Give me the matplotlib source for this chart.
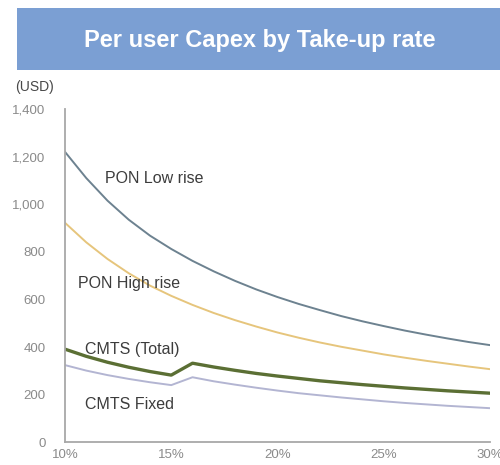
import matplotlib
matplotlib.use("Agg")
import matplotlib.pyplot as plt
from matplotlib.patches import Rectangle
from matplotlib.ticker import FuncFormatter

plt.rcParams['font.family'] = ['Liberation Sans', 'DejaVu Sans']

# Take-up rate (%) and per-user capex (USD)
take_up = [10, 11, 12, 13, 14, 15, 16, 17, 18, 19, 20,
           21, 22, 23, 24, 25, 26, 27, 28, 29, 30]
pon_low_rise = [1220, 1110, 1015, 935, 868, 812, 762, 718, 678, 642, 610,
                581, 555, 530, 508, 488, 469, 452, 436, 421, 408]
pon_high_rise = [922, 840, 770, 710, 658, 615, 577, 543, 513, 486, 461,
                 439, 419, 401, 385, 369, 355, 342, 330, 318, 307]
cmts_total = [391, 361, 336, 315, 297, 282, 332, 316, 302, 289, 278,
              268, 258, 250, 242, 235, 228, 222, 216, 211, 206]
cmts_fixed = [324, 301, 282, 266, 252, 240, 273, 256, 242, 229, 217,
              206, 197, 188, 180, 172, 165, 159, 153, 148, 143]

x_ticks = [10, 15, 20, 25, 30]
y_ticks = [0, 200, 400, 600, 800, 1000, 1200, 1400]

title = "Per user Capex by Take-up rate"
unit_label = "(USD)"

fig = plt.figure(figsize=(5.0, 4.65), dpi=100)

# Title banner
fig.patches.append(Rectangle((0.034, 0.849), 0.966, 0.134, transform=fig.transFigure,
                             facecolor="#7b9fd3", edgecolor="none", zorder=0))
fig.text(0.52, 0.913, title, color="white", fontsize=17, fontweight="bold",
         ha="center", va="center")
fig.text(0.03, 0.813, unit_label, color="#484848", fontsize=10,
         ha="left", va="center")

ax = fig.add_axes([0.13, 0.049, 0.85, 0.7165])

ax.plot(take_up, pon_low_rise, color="#6d8290", lw=1.4)
ax.plot(take_up, pon_high_rise, color="#e6c57c", lw=1.4)
ax.plot(take_up, cmts_total, color="#5b6f34", lw=2.4)
ax.plot(take_up, cmts_fixed, color="#b3b5d2", lw=1.4)

label_style = dict(color="#3c3c3c", fontsize=11.5, ha="left", va="center")
ax.text(11.9, 1109, "PON Low rise", **label_style)
ax.text(10.6, 668, "PON High rise", **label_style)
ax.text(10.95, 391, "CMTS (Total)", **label_style)
ax.text(10.95, 160, "CMTS Fixed", **label_style)

ax.set_xlim(10, 30)
ax.set_ylim(0, 1400)
ax.set_xticks(x_ticks)
ax.set_yticks(y_ticks)
ax.xaxis.set_major_formatter(FuncFormatter(lambda v, p: f"{v:.0f}%"))
ax.yaxis.set_major_formatter(FuncFormatter(lambda v, p: f"{v:,.0f}"))
ax.tick_params(axis="both", length=0, labelsize=9.5, labelcolor="#8a8a8a")
ax.tick_params(axis="y", pad=14)
ax.tick_params(axis="x", pad=5)

for side in ("top", "right"):
    ax.spines[side].set_visible(False)
for side in ("left", "bottom"):
    ax.spines[side].set_color("#a8a8a8")
    ax.spines[side].set_linewidth(1.3)

fig.savefig("out.png", dpi=100)
